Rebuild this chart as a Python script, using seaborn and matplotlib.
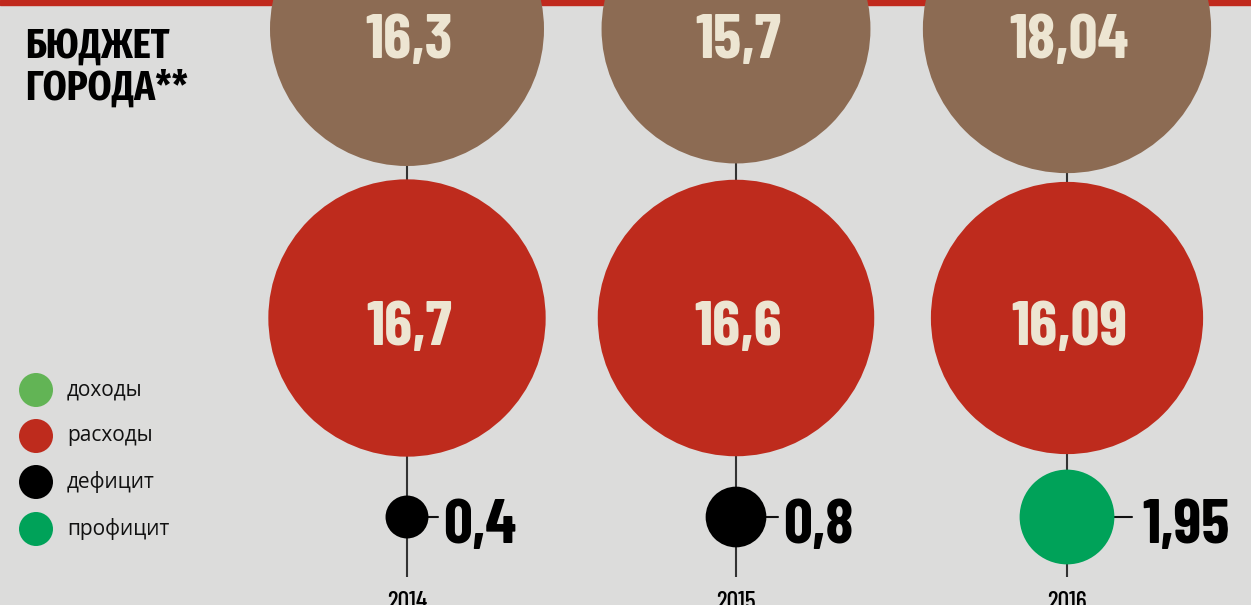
import numpy as np
import pandas as pd
import matplotlib
matplotlib.use("Agg")
import matplotlib.pyplot as plt
import seaborn as sns

# data (billions)
years = ["2014", "2015", "2016"]
income = [16.3, 15.7, 18.04]
expenses = [16.7, 16.6, 16.09]
balance = [0.4, 0.8, 1.95]
balance_kind = ["дефицит", "дефицит", "профицит"]

legend_labels = ["доходы", "расходы", "дефицит", "профицит"]
colors = {"доходы": "#8c6b53", "расходы": "#be2b1d",
          "дефицит": "#000000", "профицит": "#00a259"}
legend_colors = ["#62b455", "#be2b1d", "#000000", "#00a259"]

W, H, DPI = 1251, 605, 100
BG = "#dcdcdb"
col_x = [407, 736, 1067]
row_y = {"доходы": 29, "расходы": 318, "balance": 517}
K = 137 / np.sqrt(16.3)  # px of radius per sqrt(value)

def fmt(v):
    return str(v).replace(".", ",")

def radius(v):
    return K * np.sqrt(v)

def s_for(v):
    return (2 * radius(v) * 72 / DPI) ** 2

rows = []
for i, y in enumerate(years):
    rows.append(dict(year=y, x=col_x[i], y=row_y["доходы"], value=income[i], kind="доходы"))
    rows.append(dict(year=y, x=col_x[i], y=row_y["расходы"], value=expenses[i], kind="расходы"))
    rows.append(dict(year=y, x=col_x[i], y=row_y["balance"], value=balance[i], kind=balance_kind[i]))
df = pd.DataFrame(rows)

sns.set_theme(style="white")
plt.rcParams["font.family"] = ["Open Sans", "DejaVu Sans"]
num_font = ["Barlow Condensed", "Fira Sans Extra Condensed", "DejaVu Sans"]
title_font = ["Fira Sans Extra Condensed", "PT Sans Narrow", "DejaVu Sans"]

fig = plt.figure(figsize=(W / DPI, H / DPI), dpi=DPI, facecolor=BG)
ax = fig.add_axes([0, 0, 1, 1])
ax.set_facecolor(BG)
ax.set_xlim(0, W)
ax.set_ylim(H, 0)
ax.axis("off")

# red strip on top
ax.axhspan(0, 5, color="#c0291d", zorder=0)

# stems
ax.vlines(col_x, 0, 577, color="#333333", lw=1.5, zorder=1)

sns.scatterplot(data=df, x="x", y="y", hue="kind", palette=colors,
                s=[s_for(v) for v in df["value"]], linewidth=0,
                legend=False, ax=ax, zorder=2)

cream = "#ede5d2"
for i, x in enumerate(col_x):
    ax.text(x + 2, 58, fmt(income[i]), ha="center", va="baseline", color=cream,
            fontsize=46, fontweight="bold", family=num_font, zorder=3)
    ax.text(x + 2, 345, fmt(expenses[i]), ha="center", va="baseline", color=cream,
            fontsize=46, fontweight="bold", family=num_font, zorder=3)
    edge = x + radius(balance[i])
    tick = [10, 12, 18][i]
    gap = [15, 17, 28][i]
    ax.plot([edge, edge + tick], [517, 517], color="#111111", lw=1.5, zorder=1)
    ax.text(edge + gap, 543, fmt(balance[i]), ha="left", va="baseline", color="black",
            fontsize=46, fontweight="bold", family=num_font, zorder=3)
    ax.text(x, 609, years[i], ha="center", va="baseline", color="black",
            fontsize=18.5, fontweight="medium", family=num_font, zorder=3)

# title
ax.text(25, 58, "БЮДЖЕТ", ha="left", va="baseline", fontsize=30,
        fontweight="bold", family=title_font, color="black")
ax.text(25, 100, "ГОРОДА**", ha="left", va="baseline", fontsize=30,
        fontweight="bold", family=title_font, color="black")

# legend
leg_y = [390, 436, 482, 529]
ax.scatter([36] * 4, leg_y, s=(34 * 72 / DPI) ** 2, c=legend_colors, linewidths=0, zorder=2)
for yy, lab in zip(leg_y, legend_labels):
    ax.text(67, yy, lab, ha="left", va="center", fontsize=15, color="#111111")

fig.savefig("out.png", dpi=DPI, facecolor=BG)
